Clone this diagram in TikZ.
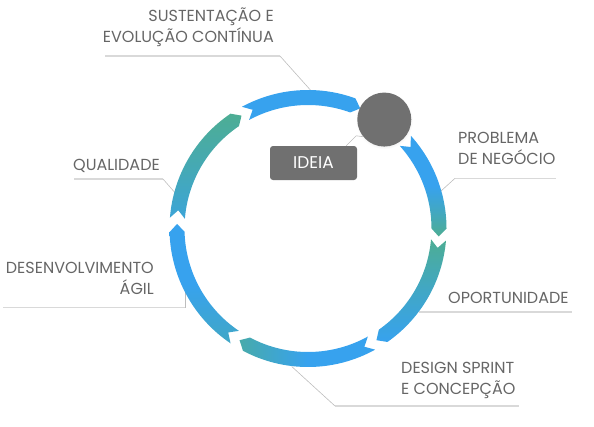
\documentclass[tikz,border=0pt]{standalone}
\usepackage{fontspec}
\setmainfont{Poppins}
\usetikzlibrary{positioning,calc,shadows}
\definecolor{bluec}{HTML}{37A2EE}
\definecolor{tealc}{HTML}{4DAD94}
\definecolor{greyc}{HTML}{707070}
\definecolor{textc}{HTML}{666666}
\definecolor{linec}{HTML}{D9D9D9}
\definecolor{leadc}{HTML}{BDBDBD}
\tikzset{
  lbl/.style={font=\fontsize{16}{21}\selectfont, text=textc, inner sep=0pt},
  uline/.style={linec, line width=1.6pt},
  leader/.style={leadc, line width=0.6pt},
}

\begin{document}
\begin{tikzpicture}[x=1pt, y=-1pt]
  \useasboundingbox (0,0) rectangle (594,426);
  \coordinate (ctr) at (308,228.5);
  % labels
  \node[lbl, align=right, anchor=east] (sust) at (274,27.5) {SUSTENTAÇÃO E\\EVOLUÇÃO CONTÍNUA};
  \node[lbl, anchor=east] (qual) at (160,165.5) {QUALIDADE};
  \node[lbl, align=right, anchor=east] (desenv) at (154,278) {DESENVOLVIMENTO\\ÁGIL};
  \node[lbl, align=left, anchor=west] (probl) at (458,148) {PROBLEMA\\DE NEGÓCIO};
  \node[lbl, anchor=west] (oport) at (448,297.5) {OPORTUNIDADE};
  \node[lbl, align=left, anchor=west] (design) at (401,380) {DESIGN SPRINT\\E CONCEPÇÃO};
  % ring contact points
  \begin{scope}[shift={(ctr)}]
    \coordinate (rsust) at (-89:138.5);
    \coordinate (rqual) at (195:137.5);
    \coordinate (rprobl) at (-15.5:137);
    \coordinate (rdesign) at (96.7:139);
  \end{scope}
  \coordinate (sustA) at (105,56);
  \coordinate (sustB) at (280,56);
  \coordinate (qualA) at (74,179);
  \coordinate (qualB) at (163,179);
  \coordinate (desenvA) at (3,307.5);
  \coordinate (desenvB) at (185,307.5);
  \coordinate (rdesenv) at (185,292.2);
  \coordinate (problA) at (455,178.3);
  \coordinate (problB) at (556,178.3);
  \coordinate (roport) at (418.7,311.7);
  \coordinate (oportB) at (572,311.7);
  \coordinate (designA) at (335,406);
  \coordinate (designB) at (519,406);
  % underlines and leaders
  \draw[uline] (sustA) -- (sustB);
  \draw[leader] (sustB) -- (rsust);
  \draw[uline] (qualA) -- (qualB);
  \draw[leader] (qualB) -- (rqual);
  \draw[uline] (desenvA) -- (desenvB);
  \draw[leader] (desenvB) -- (rdesenv);
  \draw[uline] (problA) -- (problB);
  \draw[leader] (problA) -- (rprobl);
  \draw[uline] (roport) -- (oportB);
  \draw[uline] (designA) -- (designB);
  \draw[leader] (designA) -- (rdesign);
  % ring segments, clockwise
  \begin{scope}[shift={(ctr)}]
    \shade[top color=bluec, bottom color=tealc, middle color=bluec]
      (-42:138.5) arc[start angle=-42, end angle=0, radius=138.5]
      -- (3.5:131) -- (0:123.5) arc[start angle=0, end angle=-42, radius=123.5]
      -- (-38.5:131) -- cycle;
    \shade[top color=tealc, bottom color=bluec, middle color=bluec!55!tealc]
      (5:138.5) arc[start angle=5, end angle=55, radius=138.5]
      -- (58.5:131) -- (55:123.5) arc[start angle=55, end angle=5, radius=123.5]
      -- (8.5:131) -- cycle;
    \shade[left color=tealc!75!bluec, right color=bluec, middle color=bluec]
      (61:138.5) arc[start angle=61, end angle=118, radius=138.5]
      -- (121.5:131) -- (118:123.5) arc[start angle=118, end angle=61, radius=123.5]
      -- (64.5:131) -- cycle;
    \shade[top color=bluec, bottom color=bluec!55!tealc, middle color=bluec]
      (124:138.5) arc[start angle=124, end angle=178.5, radius=138.5]
      -- (182:131) -- (178.5:123.5) arc[start angle=178.5, end angle=124, radius=123.5]
      -- (127.5:131) -- cycle;
    \shade[top color=tealc, bottom color=bluec!75!tealc, middle color=bluec!35!tealc]
      (184.5:138.5) arc[start angle=184.5, end angle=236, radius=138.5]
      -- (239.5:131) -- (236:123.5) arc[start angle=236, end angle=184.5, radius=123.5]
      -- (188:131) -- cycle;
    \fill[bluec]
      (241.5:138.5) arc[start angle=241.5, end angle=290, radius=138.5]
      -- (293.5:131) -- (290:123.5) arc[start angle=290, end angle=241.5, radius=123.5]
      -- (245:131) -- cycle;
  \end{scope}
  % idea
  \node[fill=greyc, rounded corners=3pt, minimum width=87pt, minimum height=34pt,
    text=white, font=\fontsize{17}{19}\selectfont] (ideabox) at (313.5,163) {IDEIA};
  \node[circle, fill=greyc, minimum size=54pt, inner sep=0pt,
    circular drop shadow={opacity=0.12, shadow scale=1.06, shadow xshift=0pt, shadow yshift=-1pt}]
    (idea) at ($(ctr)+(-55:133)$) {};
  \draw[leader] ($(ideabox.north east)+(-11,0)$) -- ++(10,-10) -- (idea.219);
\end{tikzpicture}
\end{document}
